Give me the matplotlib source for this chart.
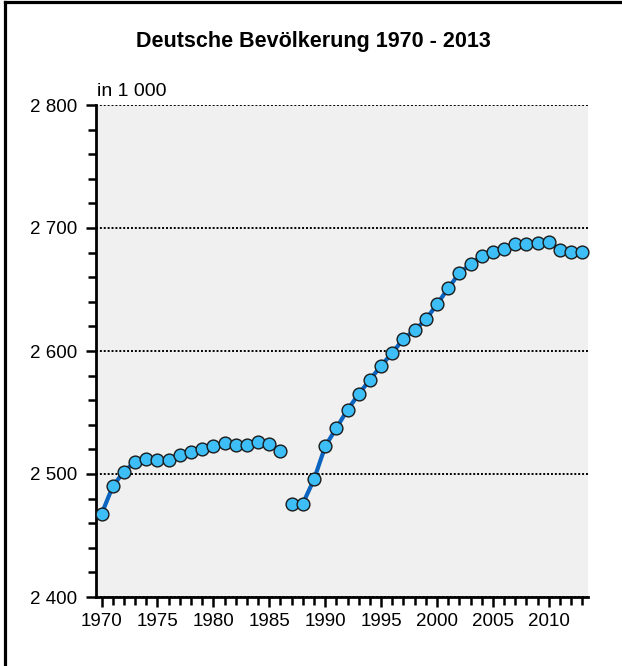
import numpy as np
import matplotlib.pyplot as plt
from matplotlib.ticker import MultipleLocator, FuncFormatter
from matplotlib.lines import Line2D

years = list(range(1970, 2014))
population = [
    2467.5, 2490, 2502, 2510, 2512, 2511, 2511, 2515.5, 2517.6, 2520,
    2522.8, 2525, 2523.3, 2523.3, 2526, 2524, 2519, 2476, 2476, 2495.7,
    2522.5, 2537.4, 2552.3, 2565, 2576.7, 2588, 2598.6, 2609.8, 2617, 2625.7,
    2638, 2651, 2663.4, 2670.5, 2677.5, 2680.8, 2682.6, 2686.7, 2687.2, 2687.8,
    2689, 2681.9, 2680.2, 2680.2,
]
gap_year = 1987  # line is interrupted between 1986 and 1987

title = "Deutsche Bevölkerung 1970 - 2013"
unit_label = "in 1 000"
font = ['Liberation Sans Narrow', 'Liberation Sans', 'DejaVu Sans']

x = np.array(years, dtype=float)
y = np.array(population, dtype=float)

fig = plt.figure(figsize=(6.22, 6.66), dpi=100)
ax = fig.add_axes([96 / 622, 69 / 666, 492 / 622, 492 / 666])
ax.set_facecolor('#F0F0F0')

first = x < gap_year
ax.plot(x[first], y[first], color='#0A64C0', lw=3.0, zorder=2)
ax.plot(x[~first], y[~first], color='#0A64C0', lw=3.0, zorder=2)
ax.plot(x, y, 'o', ms=9.2, mfc='#3DBEF7', mec='#1a1a1a', mew=1.0, zorder=3, clip_on=False)

ax.set_xlim(1969.5, 2013.5)
ax.set_ylim(2400, 2800)

ax.xaxis.set_major_locator(MultipleLocator(5))
ax.xaxis.set_minor_locator(MultipleLocator(1))
ax.yaxis.set_major_locator(MultipleLocator(100))
ax.yaxis.set_minor_locator(MultipleLocator(20))
ax.yaxis.set_major_formatter(FuncFormatter(lambda v, p: f"{int(v):,}".replace(",", " ")))

ax.grid(axis='y', which='major', color='black', linestyle=(0, (1.0, 1.0)), lw=1.4)
ax.set_axisbelow(True)

for s in ['top', 'right']:
    ax.spines[s].set_visible(False)
for s in ['left', 'bottom']:
    ax.spines[s].set_linewidth(2)

ax.tick_params(which='both', direction='out', width=1.8, color='black')
ax.tick_params(which='major', length=7.5)
ax.tick_params(which='minor', length=6)
ax.tick_params(axis='y', which='major', pad=6)
ax.tick_params(axis='x', which='major', pad=4)
for lab in ax.get_xticklabels() + ax.get_yticklabels():
    lab.set_family(font)
    lab.set_fontsize(13.5)

fig.text(313 / 622, 1 - 47 / 666, title, ha='center', va='baseline',
         fontsize=15.5, fontweight='bold', family=font)
fig.text(97 / 622, 1 - 96.5 / 666, unit_label, ha='left', va='baseline',
         fontsize=14, family=font)

# outer frame (top and left edges visible)
fig.add_artist(Line2D([4.5 / 622, 4.5 / 622], [0, 1 - 2 / 666], transform=fig.transFigure,
                      color='black', lw=2.3))
fig.add_artist(Line2D([4.5 / 622, 1], [1 - 2 / 666, 1 - 2 / 666], transform=fig.transFigure,
                      color='black', lw=2.3))

fig.savefig('out.png', dpi=100)
